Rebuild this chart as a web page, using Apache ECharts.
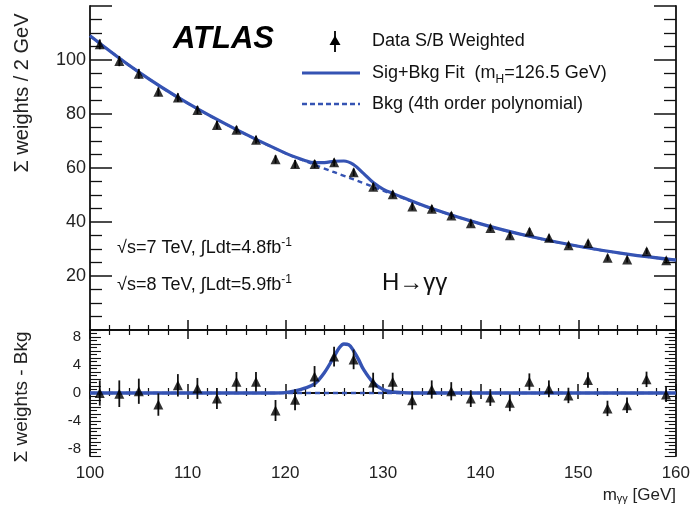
<!DOCTYPE html>
<html>
<head>
<meta charset="utf-8">
<script src="https://cdn.jsdelivr.net/npm/echarts@6/dist/echarts.min.js"></script>
<style>
html,body{margin:0;padding:0;background:#fff;}
#chart{width:693px;height:510px;}
</style>
</head>
<body>
<div id="chart"></div>
<script>
// ---- data ----
const massBins = [101,103,105,107,109,111,113,115,117,119,121,123,125,127,129,131,133,135,137,139,141,143,145,147,149,151,153,155,157,159];
const weightedData = [105.8,99.6,94.9,88.2,86.1,81.5,75.9,74.2,70.5,63.2,61.5,61.5,62.1,58.4,53.1,50.3,45.7,44.9,42.4,39.5,37.8,35.1,36.5,34.2,31.4,32.2,26.8,26.1,29.2,25.8];
const weightedErr = [1.8,1.9,1.8,1.6,1.6,1.5,1.5,1.4,1.4,1.5,1.5,1.5,1.4,1.4,1.4,1.3,1.3,1.3,1.3,1.2,1.2,1.2,1.2,1.2,1.1,1.1,1.1,1.1,1.1,1.1];
const residData = [0.0,-0.1,0.25,-1.65,1.1,0.65,-0.8,1.6,1.6,-2.5,-0.95,2.35,5.2,4.8,1.5,1.6,-1.05,0.5,0.25,-0.8,-0.65,-1.4,1.6,0.6,-0.35,1.85,-2.2,-1.75,1.95,-0.2];
const residErr = [1.8,1.9,1.8,1.6,1.6,1.5,1.5,1.4,1.4,1.5,1.5,1.5,1.4,1.4,1.4,1.3,1.3,1.3,1.3,1.2,1.2,1.2,1.2,1.2,1.1,1.1,1.1,1.1,1.1,1.1];

const bkgX = [100,105,110,115,120,122,124,126,128,130,135,140,145,150,155,160];
const bkgY = [109.0,95.5,84.0,74.2,65.5,62.6,59.8,57.1,54.4,51.6,45.0,39.3,34.7,31.0,28.1,25.9];
const sbX = [100,105,110,115,120,122,123,124,125,126,127,128,129,130,131,135,140,145,150,155,160];
const sbY = [109.0,95.5,84.0,74.2,65.5,62.8,62.0,62.0,62.5,62.6,61.2,58.0,54.6,52.2,50.6,45.0,39.3,34.7,31.0,28.1,25.9];
const sigX = [100,119,120,121,122,123,124,125,125.5,126,126.5,127,127.5,128,129,130,131,132,133,160];
const sigY = [0,0,0.05,0.3,0.7,1.3,2.9,5.2,6.4,7.0,6.9,6.0,4.8,3.4,1.5,0.5,0.15,0.05,0,0];
const bkgResX = [100,160];
const bkgResY = [0,0];

const xTicks = [100,110,120,130,140,150,160];
const topYTicks = [20,40,60,80,100];
const botYTicks = [-8,-4,0,4,8];

const BLUE = '#3553b3';
const FONT = 'Liberation Sans, Arial, sans-serif';

const pairs = (xs, ys) => xs.map((x, i) => [x, ys[i]]);

function errBar(xIdx, yIdx, vals, errs) {
  return {
    type: 'custom', xAxisIndex: xIdx, yAxisIndex: yIdx, z: 3,
    data: massBins.map((x, i) => [x, vals[i] - errs[i], vals[i] + errs[i]]),
    renderItem: function (params, api) {
      const p1 = api.coord([api.value(0), api.value(1)]);
      const p2 = api.coord([api.value(0), api.value(2)]);
      return { type: 'line', shape: { x1: p1[0], y1: p1[1], x2: p2[0], y2: p2[1] },
        style: { stroke: '#111', lineWidth: 1.8 } };
    }
  };
}

const chart = echarts.init(document.getElementById('chart'), null, { renderer: 'canvas' });

const axLine = { show: true, lineStyle: { color: '#111', width: 1.8 } };
function xAx(grid, pos, showLabel, tickLen, minorLen) {
  return {
    type: 'value', gridIndex: grid, position: pos, min: 100, max: 160, interval: 10,
    axisLine: axLine,
    axisTick: { show: true, inside: true, length: tickLen, lineStyle: { color: '#111', width: 1.5 } },
    minorTick: { show: true, splitNumber: 5, length: minorLen, lineStyle: { color: '#111', width: 1.2 } },
    axisLabel: { show: showLabel, color: '#222', fontSize: 17, fontFamily: FONT, margin: 9,
      formatter: v => (xTicks.indexOf(v) >= 0 ? String(v) : '') },
    splitLine: { show: false }
  };
}

const option = {
  animation: false,
  backgroundColor: '#fff',
  grid: [
    { left: 90, right: 17, top: 6, height: 324 },
    { left: 90, right: 17, top: 330, height: 126 }
  ],
  xAxis: [
    xAx(0, 'bottom', false, 10, 5),
    xAx(0, 'top', false, 9, 5),
    xAx(1, 'bottom', true, 9, 5),
    xAx(1, 'top', false, 6, 3)
  ],
  yAxis: [
    { type: 'value', gridIndex: 0, position: 'left', min: 0, max: 120, interval: 20,
      axisLine: axLine,
      axisTick: { show: true, inside: true, length: 22, lineStyle: { color: '#111', width: 1.5 } },
      minorTick: { show: true, splitNumber: 4, length: 12, lineStyle: { color: '#111', width: 1.3 } },
      axisLabel: { color: '#222', fontSize: 18, fontFamily: FONT, margin: 4,
        formatter: v => (topYTicks.indexOf(v) >= 0 ? String(v) : '') },
      splitLine: { show: false } },
    { type: 'value', gridIndex: 0, position: 'right', min: 0, max: 120, interval: 20,
      axisLine: axLine,
      axisTick: { show: true, inside: true, length: 22, lineStyle: { color: '#111', width: 1.5 } },
      minorTick: { show: true, splitNumber: 4, length: 12, lineStyle: { color: '#111', width: 1.3 } },
      axisLabel: { show: false }, splitLine: { show: false } },
    { type: 'value', gridIndex: 1, position: 'left', min: -9, max: 9, interval: 1,
      axisLine: axLine,
      axisTick: { show: true, inside: true, length: 11, lineStyle: { color: '#111', width: 1.1 } },
      minorTick: { show: true, splitNumber: 2, length: 7, lineStyle: { color: '#111', width: 1.1 } },
      axisLabel: { color: '#222', fontSize: 15, fontFamily: FONT, margin: 9,
        formatter: v => (botYTicks.indexOf(v) >= 0 ? String(v) : '') },
      splitLine: { show: false } },
    { type: 'value', gridIndex: 1, position: 'right', min: -9, max: 9, interval: 1,
      axisLine: axLine,
      axisTick: { show: true, inside: true, length: 11, lineStyle: { color: '#111', width: 1.1 } },
      minorTick: { show: true, splitNumber: 2, length: 7, lineStyle: { color: '#111', width: 1.1 } },
      axisLabel: { show: false }, splitLine: { show: false } }
  ],
  series: [
    { type: 'line', xAxisIndex: 0, yAxisIndex: 0, data: pairs(bkgX, bkgY), smooth: 0.4,
      showSymbol: false, z: 2, lineStyle: { color: BLUE, width: 2.4, type: [5, 4] } },
    { type: 'line', xAxisIndex: 0, yAxisIndex: 0, data: pairs(sbX, sbY), smooth: 0.4,
      showSymbol: false, z: 2, lineStyle: { color: BLUE, width: 3.2 } },
    errBar(0, 0, weightedData, weightedErr),
    { type: 'scatter', xAxisIndex: 0, yAxisIndex: 0, data: pairs(massBins, weightedData),
      symbol: 'triangle', symbolSize: 10, z: 4, itemStyle: { color: '#000' } },

    { type: 'line', xAxisIndex: 2, yAxisIndex: 2, data: pairs(bkgResX, bkgResY),
      showSymbol: false, z: 2, lineStyle: { color: BLUE, width: 2.4, type: [5, 4] } },
    { type: 'line', xAxisIndex: 2, yAxisIndex: 2, data: pairs(sigX, sigY), smooth: 0.35,
      showSymbol: false, z: 2, lineStyle: { color: BLUE, width: 3.4 } },
    errBar(2, 2, residData, residErr),
    { type: 'scatter', xAxisIndex: 2, yAxisIndex: 2, data: pairs(massBins, residData),
      symbol: 'triangle', symbolSize: 10, z: 4, itemStyle: { color: '#000' } }
  ],
  graphic: [
    // ATLAS label
    { type: 'text', x: 173, y: 39, style: { text: 'ATLAS', fontSize: 31, fontWeight: 'bold',
      fontStyle: 'italic', fontFamily: FONT, fill: '#000', verticalAlign: 'middle' } },
    // legend: data marker
    { type: 'line', shape: { x1: 335, y1: 31, x2: 335, y2: 52 }, style: { stroke: '#000', lineWidth: 1.8 } },
    { type: 'polygon', shape: { points: [[335, 35.5], [329.5, 45], [340.5, 45]] }, style: { fill: '#000' } },
    { type: 'text', x: 372, y: 41, style: { text: 'Data S/B Weighted', fontSize: 18, fontFamily: FONT,
      fill: '#111', verticalAlign: 'middle' } },
    // legend: sig+bkg
    { type: 'line', shape: { x1: 302, y1: 73, x2: 360, y2: 73 }, style: { stroke: BLUE, lineWidth: 3.2 } },
    { type: 'text', x: 372, y: 73, style: {
      text: '{a|Sig+Bkg Fit  (m}{s|H}{a|=126.5 GeV)}', verticalAlign: 'middle',
      rich: { a: { fontSize: 18, fontFamily: FONT, fill: '#111' },
              s: { fontSize: 12, fontFamily: FONT, fill: '#111', padding: [13, 0, 0, 0] } } } },
    // legend: bkg
    { type: 'line', shape: { x1: 302, y1: 104, x2: 360, y2: 104 }, style: { stroke: BLUE, lineWidth: 2.4, lineDash: [5, 3] } },
    { type: 'text', x: 372, y: 104, style: { text: 'Bkg (4th order polynomial)', fontSize: 18,
      fontFamily: FONT, fill: '#111', verticalAlign: 'middle' } },
    // luminosity
    { type: 'text', x: 117, y: 248, style: {
      text: '{a|√s=7 TeV, ∫Ldt=4.8fb}{p|-1}', verticalAlign: 'middle',
      rich: { a: { fontSize: 18, fontFamily: FONT, fill: '#111' },
              p: { fontSize: 12, fontFamily: FONT, fill: '#111', padding: [0, 0, 11, 0] } } } },
    { type: 'text', x: 117, y: 285, style: {
      text: '{a|√s=8 TeV, ∫Ldt=5.9fb}{p|-1}', verticalAlign: 'middle',
      rich: { a: { fontSize: 18, fontFamily: FONT, fill: '#111' },
              p: { fontSize: 12, fontFamily: FONT, fill: '#111', padding: [0, 0, 11, 0] } } } },
    // process label
    { type: 'text', x: 382, y: 283, style: { text: 'H→γγ', fontSize: 24, fontFamily: FONT,
      fill: '#111', verticalAlign: 'middle' } },
    // axis titles
    { type: 'text', x: 22, y: 93, rotation: Math.PI / 2, style: { text: 'Σ weights / 2 GeV',
      fontSize: 20, fontFamily: FONT, fill: '#222', align: 'center', verticalAlign: 'middle' } },
    { type: 'text', x: 22, y: 397, rotation: Math.PI / 2, style: { text: 'Σ weights - Bkg',
      fontSize: 19, fontFamily: FONT, fill: '#222', align: 'center', verticalAlign: 'middle' } },
    { type: 'text', x: 676, y: 495, style: {
      text: '{a|m}{s|γγ}{a| [GeV]}', align: 'right', verticalAlign: 'middle',
      rich: { a: { fontSize: 17, fontFamily: FONT, fill: '#222' },
              s: { fontSize: 11, fontFamily: FONT, fill: '#222', padding: [8, 0, 0, 0] } } } }
  ]
};
chart.setOption(option);
</script>
</body>
</html>
